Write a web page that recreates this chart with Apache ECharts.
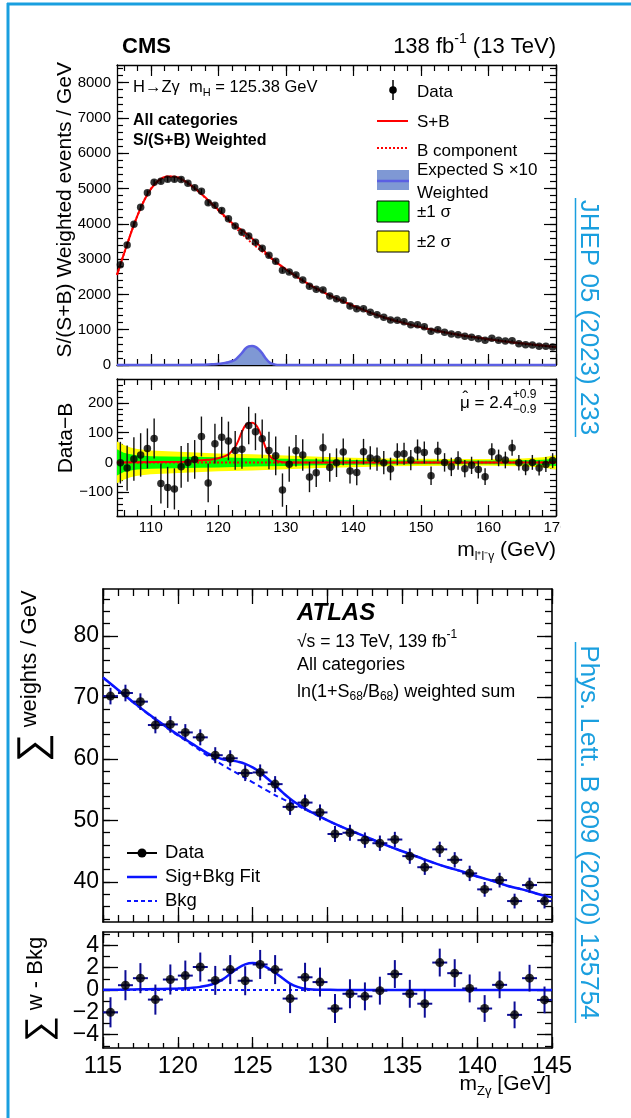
<!DOCTYPE html>
<html>
<head>
<meta charset="utf-8">
<title>H → Zγ mass spectra: CMS and ATLAS</title>
<script src="https://cdn.jsdelivr.net/npm/echarts@6.0.0/dist/echarts.min.js"></script>
<style>
  html, body { margin: 0; padding: 0; background: #fff; }
  #chart { width: 631px; height: 1118px; }
</style>
</head>
<body>
<div id="chart"></div>
<script>
const FONT = '"Liberation Sans", Arial, Helvetica, sans-serif';
const REF_BLUE = '#1a9fdf';

// ---------------- CMS: S/(S+B)-weighted events per GeV, 1 GeV bins 105-170 GeV ----------------
const cmsData = [2840, 3400, 3985, 4470, 4878, 5179, 5207, 5264, 5264, 5255,
  5150, 5020, 4924, 4594, 4527, 4377, 4145, 3938, 3758, 3654,
  3475, 3305, 3107, 2937, 2682, 2635, 2550, 2408, 2229, 2144,
  2125, 1955, 1879, 1832, 1671, 1596, 1596, 1492, 1426, 1350,
  1275, 1265, 1228, 1143, 1143, 1086, 954, 1001, 925, 878,
  859, 812, 784, 746, 699, 755, 699, 680, 689, 604,
  576, 567, 529, 529, 510];
// data minus background fit
const cmsResid = [-1, -19, 11, 25, 47, 80, -71, -84, -89, -15,
  0, 10, 87, -69, 63, 84, 72, 40, 44, 124,
  103, 79, 40, 22, -93, -6, 39, 25, -49, -35,
  49, -17, -1, 35, -29, -34, 36, 15, 11, -1,
  -22, 27, 29, 8, 42, 33, -45, 37, 0, -15,
  6, -21, -10, -24, -48, 36, 15, 8, 49, -1,
  -18, 0, -19, -7, 6];
const cmsResidErr = [70, 76, 73, 73, 67, 67, 67, 69, 69, 70,
  65, 65, 67, 65, 67, 69, 65, 65, 65, 63,
  62, 65, 63, 65, 56, 59, 53, 53, 51, 48,
  48, 48, 48, 45, 42, 43, 43, 39, 39, 39,
  38, 37, 37, 34, 35, 37, 31, 32, 31, 31,
  31, 29, 29, 30, 28, 28, 28, 28, 27, 26,
  25, 25, 25, 25, 25];
// background fit at 105 GeV, at every bin centre, and at 170 GeV
const cmsBkgFit = [2555, 2845, 3420, 3970, 4445, 4830, 5105, 5270, 5340, 5335, 5265,
  5150, 5005, 4840, 4660, 4475, 4285, 4090, 3900, 3715, 3535,
  3370, 3215, 3070, 2920, 2780, 2645, 2515, 2390, 2275, 2170,
  2070, 1975, 1885, 1800, 1715, 1635, 1560, 1485, 1415, 1352,
  1295, 1240, 1190, 1140, 1095, 1050, 1005, 965, 928, 893,
  860, 828, 798, 770, 744, 718, 692, 668, 644, 622,
  600, 580, 560, 540, 520, 510];
// signal shapes: expected S x10 (top) and fitted S (residual panel)
const cmsSigMass = [105, 115, 116, 117, 118, 119, 120, 120.5, 121, 121.5, 122, 122.5, 123, 123.5,
  124, 124.5, 125, 125.5, 126, 126.5, 127, 127.5, 128, 128.5, 129, 130, 170];
const cmsExpSx10 = [0, 0, 3, 6, 10, 18, 35, 45, 60, 80, 105, 150, 240, 340,
  460, 525, 540, 515, 440, 330, 190, 85, 30, 10, 3, 0, 0];
const cmsSigFit = [0, 2, 4, 6, 8, 10, 14, 17, 21, 27, 38, 52, 75, 103,
  124, 132, 133, 127, 110, 82, 50, 26, 13, 7, 3, 0, 0];
// ±1σ / ±2σ half widths of the background-fit uncertainty
const cmsBandMass = [105, 106, 107, 108, 110, 115, 120, 125, 130, 135, 140, 145, 150, 155, 160, 165, 168, 170];
const cmsBand1 = [44, 32, 27, 24, 21, 19, 17, 14, 12, 10, 8, 7, 6, 6, 6, 7, 9, 12];
const cmsBand2 = [70, 58, 50, 45, 40, 35, 30, 27, 23, 19, 16, 13, 12, 11, 11, 13, 17, 24];
// tick labels
const cmsMassTicks = [110, 120, 130, 140, 150, 160, 170];
const cmsEventTicks = [0, 1000, 2000, 3000, 4000, 5000, 6000, 7000, 8000];
const cmsResidTicks = [-100, 0, 100, 200];

// ---------------- ATLAS: ln(1+S68/B68)-weighted sum per GeV, 1 GeV bins 115-145 GeV ----------------
const atlasData = [70.2, 70.7, 69.3, 65.5, 65.6, 64.3, 63.5, 60.6, 60.1, 57.7,
  57.8, 55.9, 52.2, 52.9, 51.3, 47.8, 48.0, 46.8, 46.3, 46.9,
  44.2, 42.4, 45.3, 43.6, 41.4, 38.8, 40.3, 36.9, 39.5, 36.9];
const atlasResid = [-2.0, 0.43, 1.06, -0.86, 0.94, 1.29, 2.06, 0.86, 1.83, 0.83,
  2.29, 1.83, -0.77, 1.14, 0.71, -1.66, -0.34, -0.57, -0.06, 1.43,
  -0.34, -1.23, 2.46, 1.51, 0.14, -1.66, 0.46, -2.23, 1.06, -0.89];
const atlasErr = [1.35, 1.35, 1.35, 1.35, 1.35, 1.35, 1.3, 1.3, 1.3, 1.3,
  1.3, 1.3, 1.3, 1.3, 1.3, 1.3, 1.3, 1.25, 1.25, 1.25,
  1.25, 1.25, 1.25, 1.25, 1.25, 1.2, 1.2, 1.2, 1.2, 1.2];
// background fit at every integer mass 115..145
const atlasBkgFit = [73.2, 71.2, 69.2, 67.3, 65.5, 63.8, 62.2, 60.5, 59.0, 57.6,
  56.2, 54.8, 53.5, 52.4, 51.2, 50.0, 48.9, 47.9, 46.9, 45.9,
  45.0, 44.1, 43.2, 42.4, 41.7, 40.9, 40.2, 39.4, 38.8, 38.1, 37.5];
const atlasSigMass = [115, 116, 117, 118, 119, 120, 120.5, 121, 121.5, 122, 122.5, 123, 123.5,
  124, 124.5, 125, 125.5, 126, 126.5, 127, 127.5, 128, 128.5, 129, 130, 131, 145];
const atlasSigFit = [0.02, 0.03, 0.05, 0.07, 0.1, 0.13, 0.16, 0.2, 0.28, 0.4, 0.62, 0.95, 1.45,
  1.95, 2.3, 2.42, 2.3, 1.98, 1.55, 1.05, 0.57, 0.28, 0.12, 0.05, 0.02, 0, 0];
const atlasMassTicks = [115, 120, 125, 130, 135, 140, 145];
const atlasSumTicks = [40, 50, 60, 70, 80];
const atlasResidTicks = [-4, -2, 0, 2, 4];

// ---------------- helpers ----------------
function steps(a, b, s) { const r = []; for (let v = a; v <= b + 1e-9; v += s) r.push(+v.toFixed(6)); return r; }
function interp(xs, ys, x) {
  if (x <= xs[0]) return ys[0];
  if (x >= xs[xs.length - 1]) return ys[ys.length - 1];
  let i = 1; while (xs[i] < x) i++;
  const t = (x - xs[i - 1]) / (xs[i] - xs[i - 1]);
  return ys[i - 1] + t * (ys[i] - ys[i - 1]);
}
function union(a, b) { return Array.from(new Set([...a, ...b])).sort((p, q) => p - q); }
const minusFmt = v => (v < 0 ? '\u2212' + Math.abs(v) : String(v));

const cmsCenters = cmsData.map((_, i) => 105.5 + i);
const cmsFitMass = [105, ...cmsCenters, 170];
const atlasCenters = atlasData.map((_, i) => 115.5 + i);
const atlasBkgMass = atlasBkgFit.map((_, i) => 115 + i);

// axes: each side gets a major-tick axis and a minor-tick axis
const xAxes = [], yAxes = [];
function axis(gridIndex, position, o, ticks, len, labels, showLine) {
  return {
    type: 'value', gridIndex, position, min: o.min, max: o.max,
    axisLine: { show: showLine, onZero: false, lineStyle: { color: '#000', width: o.lw } },
    axisTick: { show: true, inside: true, length: len, customValues: ticks, lineStyle: { color: '#000', width: o.tw } },
    axisLabel: labels ? {
      show: true, customValues: labels, fontSize: o.ls, fontFamily: FONT, color: '#000',
      margin: o.lm, formatter: minusFmt, showMinLabel: true, showMaxLabel: true,
      interval: 0, hideOverlap: false
    } : { show: false },
    splitLine: { show: false }, axisPointer: { show: false }
  };
}
function axisSet(list, gridIndex, dim, o) {
  const [p1, p2] = dim === 'x' ? ['bottom', 'top'] : ['left', 'right'];
  const idx = list.length;
  list.push(axis(gridIndex, p1, o, o.major, o.majorLen, o.labels, true));
  list.push(axis(gridIndex, p1, o, o.minor, o.minorLen, null, false));
  list.push(axis(gridIndex, p2, o, o.major, o.majorLen2 || o.majorLen, null, true));
  list.push(axis(gridIndex, p2, o, o.minor, o.minorLen, null, false));
  return idx;
}

const grids = [
  { left: 117, top: 65, width: 439, height: 300 },   // CMS spectrum
  { left: 117, top: 379, width: 439, height: 137 },  // CMS data - B
  { left: 103, top: 589, width: 449, height: 333 },  // ATLAS spectrum
  { left: 103, top: 932, width: 449, height: 116 }   // ATLAS sum w - Bkg
];

const cmsX = { min: 105, max: 170, major: cmsMassTicks, minor: steps(106, 170, 2), majorLen: 11, minorLen: 6, lw: 1.3, tw: 1.2, ls: 15, lm: 4 };
const X0 = axisSet(xAxes, 0, 'x', Object.assign({}, cmsX, { labels: null }));
const Y0 = axisSet(yAxes, 0, 'y', { min: 0, max: 8500, major: cmsEventTicks, minor: steps(0, 8400, 200), labels: cmsEventTicks, majorLen: 12, minorLen: 6, lw: 1.3, tw: 1.2, ls: 15, lm: 6 });
const X1 = axisSet(xAxes, 1, 'x', Object.assign({}, cmsX, { labels: cmsMassTicks }));
const Y1 = axisSet(yAxes, 1, 'y', { min: -180, max: 280, major: cmsResidTicks, minor: steps(-180, 280, 20), labels: cmsResidTicks, majorLen: 12, minorLen: 6, lw: 1.3, tw: 1.2, ls: 15, lm: 4 });

const atlasX = { min: 115, max: 145, major: atlasMassTicks, minor: steps(115, 145, 1), majorLen: 15, minorLen: 7, lw: 1.6, tw: 1.3, ls: 24, lm: 6 };
const X2 = axisSet(xAxes, 2, 'x', Object.assign({}, atlasX, { labels: null }));
const Y2 = axisSet(yAxes, 2, 'y', { min: 33.5, max: 87.6, major: atlasSumTicks, minor: steps(34, 86, 2), labels: atlasSumTicks, majorLen: 15, minorLen: 7, lw: 1.6, tw: 1.3, ls: 23, lm: 4 });
const X3 = axisSet(xAxes, 3, 'x', Object.assign({}, atlasX, { labels: atlasMassTicks, majorLen: 11, minorLen: 5 }));
// residual-axis labels are tightly packed; they are placed below from the axis scale itself
const Y3 = axisSet(yAxes, 3, 'y', { min: -5.2, max: 5.2, major: atlasResidTicks, minor: steps(-5, 5, 1), labels: null, majorLen: 15, minorLen: 7, lw: 1.6, tw: 1.3 });

// series builders
function lineSeries(xi, yi, pts, color, width, type, z, extra) {
  return Object.assign({
    type: 'line', xAxisIndex: xi, yAxisIndex: yi, data: pts, showSymbol: false, symbol: 'none',
    lineStyle: { color, width, type }, z, silent: true, clip: true, animation: false
  }, extra || {});
}
function errSeries(xi, yi, pts, color, width, z) {
  return {
    type: 'custom', xAxisIndex: xi, yAxisIndex: yi, clip: true, z, silent: true,
    data: pts, encode: { x: 0, y: 1 },
    renderItem(params, api) {
      const x = api.value(0), y = api.value(1), ex = api.value(2), ey = api.value(3);
      const a = api.coord([x, y - ey]), b = api.coord([x, y + ey]);
      const kids = [{ type: 'line', shape: { x1: a[0], y1: a[1], x2: b[0], y2: b[1] }, style: { stroke: color, lineWidth: width } }];
      if (ex > 0) {
        const l = api.coord([x - ex, y]), r = api.coord([x + ex, y]);
        kids.push({ type: 'line', shape: { x1: l[0], y1: l[1], x2: r[0], y2: r[1] }, style: { stroke: color, lineWidth: width } });
      }
      return { type: 'group', children: kids };
    }
  };
}
function pointSeries(xi, yi, pts, size) {
  return { type: 'scatter', xAxisIndex: xi, yAxisIndex: yi, data: pts, symbol: 'circle', symbolSize: size,
    itemStyle: { color: '#000' }, z: 6, silent: true, clip: true };
}
function bandSeries(xi, yi, mass, half, color) {
  return {
    type: 'custom', xAxisIndex: xi, yAxisIndex: yi, clip: true, z: 1, silent: true,
    data: [[mass[0], 0]], encode: { x: 0, y: 1 },
    renderItem(params, api) {
      const pts = mass.map((m, i) => api.coord([m, half[i]]));
      for (let i = mass.length - 1; i >= 0; i--) pts.push(api.coord([mass[i], -half[i]]));
      return { type: 'polygon', shape: { points: pts }, style: { fill: color } };
    }
  };
}

// derived curves
const cmsSB = union(cmsFitMass, cmsSigMass).map(m => [m, interp(cmsFitMass, cmsBkgFit, m) + interp(cmsSigMass, cmsSigFit, m)]);
const cmsB = cmsFitMass.map((m, i) => [m, cmsBkgFit[i]]);
const cmsExp = cmsSigMass.map((m, i) => [m, cmsExpSx10[i]]);
const cmsSigRes = cmsSigMass.map((m, i) => [m, cmsSigFit[i]]);
const atlasSB = union(atlasBkgMass, atlasSigMass).map(m => [m, interp(atlasBkgMass, atlasBkgFit, m) + interp(atlasSigMass, atlasSigFit, m)]);
const atlasB = atlasBkgMass.map((m, i) => [m, atlasBkgFit[i]]);
const atlasSigRes = atlasSigMass.map((m, i) => [m, atlasSigFit[i]]);

const RED = '#ff0000', SIGLINE = '#5b5fe3', SIGFILL = '#7f98d4';
const ABLUE = '#0a14ff', AERR = '#0c0c96';

const series = [
  // CMS spectrum
  lineSeries(X0, Y0, cmsExp, SIGLINE, 2.5, 'solid', 2, { smooth: 0.3, areaStyle: { color: SIGFILL, opacity: 1 } }),
  lineSeries(X0, Y0, cmsB, RED, 2, [2, 2], 3, { smooth: true }),
  lineSeries(X0, Y0, cmsSB, RED, 2, 'solid', 4, { smooth: true }),
  errSeries(X0, Y0, cmsCenters.map((m, i) => [m, cmsData[i], 0, cmsResidErr[i]]), '#000', 1.3, 5),
  pointSeries(X0, Y0, cmsCenters.map((m, i) => [m, cmsData[i]]), 7.5),
  // CMS data - B
  bandSeries(X1, Y1, cmsBandMass, cmsBand2, '#ffff00'),
  bandSeries(X1, Y1, cmsBandMass, cmsBand1, '#00ff00'),
  lineSeries(X1, Y1, [[105, 0], [170, 0]], RED, 2, [2, 2], 3),
  lineSeries(X1, Y1, cmsSigRes, RED, 2, 'solid', 4, { smooth: 0.3 }),
  errSeries(X1, Y1, cmsCenters.map((m, i) => [m, cmsResid[i], 0, cmsResidErr[i]]), '#111', 1.4, 5),
  pointSeries(X1, Y1, cmsCenters.map((m, i) => [m, cmsResid[i]]), 7.5),
  // ATLAS spectrum
  lineSeries(X2, Y2, atlasB, ABLUE, 2, [5, 4], 3, { smooth: true }),
  lineSeries(X2, Y2, atlasSB, ABLUE, 2.5, 'solid', 4, { smooth: true }),
  errSeries(X2, Y2, atlasCenters.map((m, i) => [m, atlasData[i], 0.5, atlasErr[i]]), AERR, 2, 5),
  pointSeries(X2, Y2, atlasCenters.map((m, i) => [m, atlasData[i]]), 9),
  // ATLAS residuals
  lineSeries(X3, Y3, [[115, 0], [145, 0]], ABLUE, 2, [3, 3], 3),
  lineSeries(X3, Y3, atlasSigRes, ABLUE, 2.5, 'solid', 4, { smooth: 0.3 }),
  errSeries(X3, Y3, atlasCenters.map((m, i) => [m, atlasResid[i], 0.5, atlasErr[i]]), AERR, 2, 5),
  pointSeries(X3, Y3, atlasCenters.map((m, i) => [m, atlasResid[i]]), 9)
];

// ---------------- text runs (with sub/superscripts) ----------------
const mctx = document.createElement('canvas').getContext('2d');
function fontStr(p) { return (p.i ? 'italic ' : '') + (p.w || 'normal') + ' ' + p.s + 'px ' + FONT; }
function textW(p) { mctx.font = fontStr(p); return mctx.measureText(p.t).width; }
function run(x, y, parts, align) {
  const ws = parts.map(textW);
  let total = 0; parts.forEach((p, i) => { if (!p.stack) total += ws[i]; });
  let cx = align === 'right' ? x - total : align === 'center' ? x - total / 2 : x;
  let lastX = cx;
  return parts.map((p, i) => {
    const px = (p.stack ? lastX : cx) + (p.dx || 0);
    if (!p.stack) { lastX = cx; cx += ws[i]; }
    return { type: 'text', x: px, y: y + (p.dy || 0), z: 100, silent: true,
      style: { text: p.t, font: fontStr(p), fill: p.c || '#000', textAlign: 'left', textVerticalAlign: 'middle', align: 'left', verticalAlign: 'middle' } };
  });
}
function rotated(x, y, rot, kids) { return { type: 'group', x, y, rotation: rot, children: kids, z: 100 }; }
function seg(x1, y1, x2, y2, color, width, dash) {
  return { type: 'line', z: 100, silent: true, shape: { x1, y1, x2, y2 }, style: { stroke: color, lineWidth: width, lineDash: dash || null } };
}

const g = [];
// reference frame
g.push(seg(7, 4, 631, 4, REF_BLUE, 3));
g.push(seg(8, 3, 8, 1118, REF_BLUE, 3));

// CMS headers
g.push(...run(122, 47, [{ t: 'CMS', s: 22, w: 'bold' }]));
g.push(...run(556, 47, [{ t: '138 fb', s: 22 }, { t: '-1', s: 14, dy: -8 }, { t: ' (13 TeV)', s: 22 }], 'right'));
g.push(...run(133, 87, [{ t: 'H\u2192Z\u03b3  m', s: 16.5 }, { t: 'H', s: 11, dy: 6 }, { t: ' = 125.38 GeV', s: 16.5 }]));
g.push(...run(133, 121, [{ t: 'All categories', s: 16, w: 'bold' }]));
g.push(...run(133, 141, [{ t: 'S/(S+B) Weighted', s: 16, w: 'bold' }]));
// CMS legend
g.push(seg(393, 80, 393, 100, '#000', 1.5));
g.push({ type: 'circle', z: 100, shape: { cx: 393, cy: 90, r: 3.8 }, style: { fill: '#000' } });
g.push(seg(377, 121, 408, 121, RED, 2));
g.push(seg(377, 148, 408, 148, RED, 2, [2, 2]));
g.push({ type: 'rect', z: 100, shape: { x: 377, y: 170, width: 32, height: 20 }, style: { fill: SIGFILL } });
g.push(seg(377, 181, 409, 181, SIGLINE, 2.5));
g.push({ type: 'rect', z: 100, shape: { x: 377, y: 201, width: 32, height: 21 }, style: { fill: '#00ff00', stroke: '#000', lineWidth: 1 } });
g.push({ type: 'rect', z: 100, shape: { x: 377, y: 231, width: 32, height: 21 }, style: { fill: '#ffff00', stroke: '#000', lineWidth: 1 } });
g.push(...run(417, 92, [{ t: 'Data', s: 17 }]));
g.push(...run(417, 122, [{ t: 'S+B', s: 17 }]));
g.push(...run(417, 151, [{ t: 'B component', s: 17 }]));
g.push(...run(417, 170, [{ t: 'Expected S \u00d710', s: 17 }]));
g.push(...run(417, 193, [{ t: 'Weighted', s: 17 }]));
g.push(...run(417, 212, [{ t: '\u00b11 \u03c3', s: 17 }]));
g.push(...run(417, 242, [{ t: '\u00b12 \u03c3', s: 17 }]));
// CMS axis titles
g.push(rotated(65, 62, Math.PI / 2, run(0, 0, [{ t: 'S/(S+B) Weighted events / GeV', s: 21 }], 'right')));
g.push(rotated(66, 438, Math.PI / 2, run(0, 0, [{ t: 'Data\u2212B', s: 21 }], 'center')));
g.push(...run(556, 550, [{ t: 'm', s: 21 }, { t: 'l\u207al\u207b\u03b3', s: 12, dy: 7 }, { t: ' (GeV)', s: 21 }], 'right'));
// fitted signal strength: mu with a hat
const muW = textW({ t: '\u03bc', s: 17 });
g.push(...run(460, 403, [{ t: '\u03bc', s: 17 }, { t: ' = 2.4', s: 17 }, { t: '+0.9', s: 12, dy: -8 }, { t: '\u22120.9', s: 12, dy: 7, stack: true }]));
g.push(...run(460 + muW / 2 + 0.5, 398, [{ t: '\u02c6', s: 17 }], 'center'));
// last mass label is cut at the figure edge
g.push({ type: 'rect', z: 99, silent: true, shape: { x: 561, y: 518, width: 12, height: 20 }, style: { fill: '#fff' } });

// ATLAS headers
g.push(...run(297, 613, [{ t: 'ATLAS', s: 24, w: 'bold', i: true }]));
g.push(...run(297, 642, [{ t: '\u221as = 13 TeV, 139 fb', s: 17.5 }, { t: '-1', s: 12, dy: -7 }]));
g.push(...run(297, 665, [{ t: 'All categories', s: 18 }]));
g.push(...run(297, 692, [{ t: 'ln(1+S', s: 18 }, { t: '68', s: 12, dy: 5 }, { t: '/B', s: 18 }, { t: '68', s: 12, dy: 5 }, { t: ') weighted sum', s: 18 }]));
// ATLAS legend
g.push(seg(127, 853, 157, 853, '#000', 2));
g.push({ type: 'circle', z: 100, shape: { cx: 142, cy: 853, r: 4.5 }, style: { fill: '#000' } });
g.push(seg(127, 877, 157, 877, ABLUE, 2.5));
g.push(seg(127, 901, 157, 901, ABLUE, 2, [4, 3]));
g.push(...run(165, 853, [{ t: 'Data', s: 18.5 }]));
g.push(...run(165, 877, [{ t: 'Sig+Bkg Fit', s: 18.5 }]));
g.push(...run(165, 901, [{ t: 'Bkg', s: 18.5 }]));
// ATLAS axis titles
g.push(rotated(34, 762, Math.PI / 2, run(0, 0, [{ t: '\u2211', s: 40 }, { t: ' weights / GeV', s: 22, dy: -4 }])));
g.push(rotated(40, 1042, Math.PI / 2, run(0, 0, [{ t: '\u2211', s: 36 }, { t: ' w - Bkg', s: 22, dy: -4 }])));
g.push(...run(551, 1084, [{ t: 'm', s: 21 }, { t: 'Z\u03b3', s: 13, dy: 7 }, { t: ' [GeV]', s: 21 }], 'right'));

// journal references
g.push(rotated(588, 317.5, -Math.PI / 2, run(0, 0, [{ t: 'JHEP 05 (2023) 233', s: 26, c: REF_BLUE }], 'center')));
g.push(seg(575.5, 198, 575.5, 437, REF_BLUE, 1.5));
g.push(rotated(588, 832.5, -Math.PI / 2, run(0, 0, [{ t: 'Phys. Lett. B 809 (2020) 135754', s: 26, c: REF_BLUE }], 'center')));
g.push(seg(575.5, 642, 575.5, 1023, REF_BLUE, 1.5));

const chart = echarts.init(document.getElementById('chart'), null, { renderer: 'canvas' });
chart.setOption({
  animation: false,
  backgroundColor: '#fff',
  grid: grids,
  xAxis: xAxes,
  yAxis: yAxes,
  series
});

// residual-axis tick labels, positioned through the axis scale
const y3Left = grids[3].left;
atlasResidTicks.forEach(v => {
  const py = chart.convertToPixel({ yAxisIndex: Y3 }, v);
  g.push(...run(y3Left - 4, py, [{ t: minusFmt(v), s: 23 }], 'right'));
});
chart.setOption({ graphic: { elements: g } });
</script>
</body>
</html>
